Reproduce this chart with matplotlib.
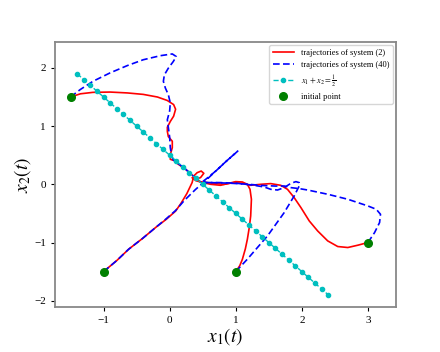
import numpy as np
import matplotlib
matplotlib.use("Agg")
import matplotlib.pyplot as plt

plt.rcParams['font.family'] = ['Liberation Serif', 'DejaVu Serif']
plt.rcParams['mathtext.fontset'] = 'stix'

# initial points
init_x1 = [-1.5, -1.0, 1.0, 3.0]
init_x2 = [1.5, -1.5, -1.5, -1.0]

# trajectories of system (2) (red)
redA_x1 = [-1.5, -1.35, -1.16, -0.90, -0.64, -0.40, -0.185, -0.035, 0.06, 0.09, 0.06, 0.01,
           -0.035, -0.035, -0.02, 0.04, 0.04, 0.01, 0.01, 0.06, 0.12, 0.10, 0.25, 0.38, 0.47]
redA_x2 = [1.5, 1.555, 1.58, 1.585, 1.57, 1.545, 1.50, 1.44, 1.37, 1.29, 1.17, 1.08,
           0.98, 0.91, 0.82, 0.74, 0.63, 0.51, 0.43, 0.41, 0.42, 0.37, 0.25, 0.12, 0.04]
redB_x1 = [-1.0, -0.80, -0.62, -0.41, -0.21, -0.05, 0.09, 0.17, 0.26, 0.34, 0.365, 0.416,
           0.477, 0.517, 0.467, 0.39, 0.34, 0.40, 0.47]
redB_x2 = [-1.5, -1.31, -1.115, -0.93, -0.74, -0.60, -0.46, -0.33, -0.16, 0.03, 0.143, 0.20,
           0.228, 0.189, 0.115, 0.086, 0.115, 0.06, 0.04]
redC_x1 = [1.0, 1.06, 1.10, 1.145, 1.176, 1.205, 1.226, 1.237, 1.216, 1.176, 1.10, 0.998,
           0.897, 0.77, 0.62, 0.47]
redC_x2 = [-1.5, -1.40, -1.29, -1.11, -0.943, -0.74, -0.543, -0.257, -0.086, 0.0, 0.04, 0.046,
           0.017, -0.017, 0.0, 0.04]
redD_x1 = [3.0, 2.848, 2.695, 2.543, 2.391, 2.239, 2.112, 1.986, 1.884, 1.783, 1.681, 1.529,
           1.377, 1.225, 1.099, 0.973, 0.82, 0.65, 0.47]
redD_x2 = [-1.0, -1.046, -1.086, -1.069, -0.972, -0.801, -0.629, -0.400, -0.229, -0.086,
           -0.017, 0.012, 0.0, -0.017, 0.017, 0.029, 0.0, 0.02, 0.04]

# trajectories of system (40) (blue)
blueA_x1 = [-1.5, -1.35, -1.16, -0.90, -0.64, -0.40, -0.14, 0.04, 0.10, 0.055, -0.02, -0.08,
            -0.095, -0.065, -0.02, 0.01, 0.0, -0.035, -0.02, 0.0, 0.01, 0.03, 0.06, 0.20, 0.35, 0.47]
blueA_x2 = [1.5, 1.63, 1.77, 1.915, 2.04, 2.14, 2.21, 2.24, 2.195, 2.11, 1.995, 1.88,
            1.77, 1.655, 1.54, 1.40, 1.26, 1.11, 0.98, 0.81, 0.63, 0.49, 0.41, 0.30, 0.15, 0.04]
blueB_x1 = [-1.0, -0.80, -0.62, -0.41, -0.21, -0.05, 0.09, 0.22, 0.39, 0.55, 0.70, 0.85, 1.03,
            0.85, 0.70, 0.55, 0.48]
blueB_x2 = [-1.5, -1.31, -1.115, -0.93, -0.74, -0.59, -0.45, -0.28, -0.09, 0.07, 0.23, 0.39, 0.57,
            0.39, 0.23, 0.09, 0.03]
blueC_x1 = [1.0, 1.176, 1.48, 1.733, 1.884, 1.96, 1.96, 1.91, 1.834, 1.733, 1.632, 1.53, 1.43,
            1.277, 1.0, 0.75, 0.50]
blueC_x2 = [-1.5, -1.286, -0.887, -0.486, -0.20, -0.029, 0.029, 0.046, 0.017, -0.057, -0.098,
            -0.086, -0.046, -0.017, 0.02, 0.03, 0.03]
blueD_x1 = [3.0, 3.10, 3.176, 3.19, 3.126, 3.0, 2.696, 2.392, 2.088, 1.961, 1.834, 1.733,
            1.6, 1.4, 1.2, 0.9, 0.6, 0.5]
blueD_x2 = [-1.0, -0.83, -0.657, -0.515, -0.429, -0.372, -0.257, -0.171, -0.098, -0.074,
            -0.057, -0.029, -0.03, -0.02, 0.0, 0.02, 0.03, 0.03]

# line x1 + x2 = 1/2
line_x1 = [round(-1.4 + 0.1 * i, 2) for i in range(39)]
line_x2 = [0.5 - v for v in line_x1]

fig = plt.figure(figsize=(4.4, 3.52), dpi=100)
ax = fig.add_axes([0.125, 0.128, 0.775, 0.753])

reds = [(redA_x1, redA_x2), (redB_x1, redB_x2), (redC_x1, redC_x2), (redD_x1, redD_x2)]
blues = [(blueA_x1, blueA_x2), (blueB_x1, blueB_x2), (blueC_x1, blueC_x2), (blueD_x1, blueD_x2)]

for i, (xr, yr) in enumerate(reds):
    ax.plot(xr, yr, color='red', lw=1.2, label='trajectories of system (2)' if i == 0 else None)
for i, (xb, yb) in enumerate(blues):
    ax.plot(xb, yb, color='blue', lw=1.2, ls=(0, (4, 2)), label='trajectories of system (40)' if i == 0 else None)
ax.plot(line_x1, line_x2, color='c', ls='--', lw=1.0, marker='o', markersize=3,
        label=r'$x_1+x_2=\frac{1}{2}$')
ax.plot(init_x1, init_x2, 'o', color='green', markersize=5.5, ls='none', label='initial point')

ax.set_xticks([-1, 0, 1, 2, 3])
ax.set_yticks([-2, -1, 0, 1, 2])
ax.tick_params(labelsize=8, length=3, width=0.8, colors='black')
for sp in ax.spines.values():
    sp.set_color('#888888')
    sp.set_linewidth(1.3)

ax.set_xlabel(r'$x_1(t)$', fontsize=14, labelpad=1)
ax.set_ylabel(r'$x_2(t)$', fontsize=14, labelpad=1)
ax.legend(loc='upper right', fontsize=6, handlelength=2.6, borderaxespad=0.4)

fig.savefig('out.png', dpi=100)
